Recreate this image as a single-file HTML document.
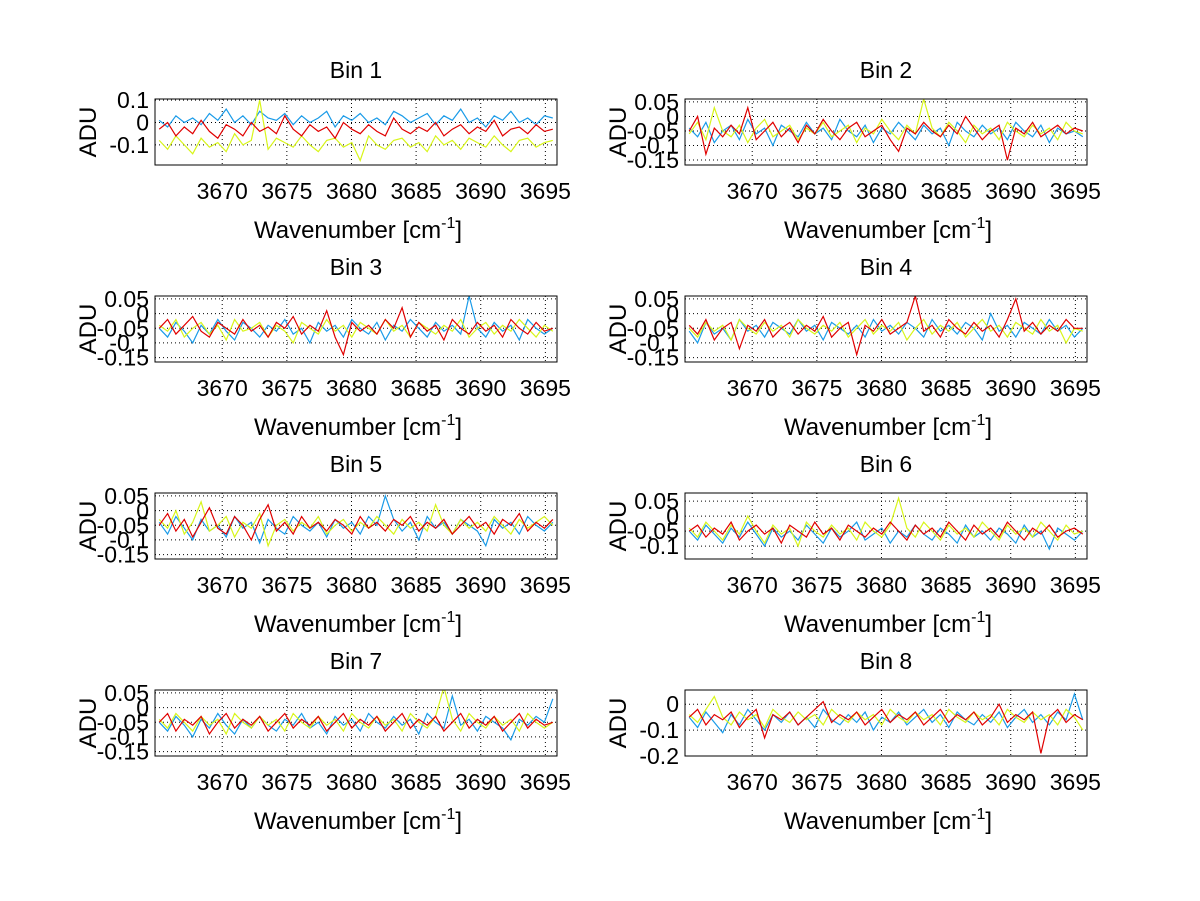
<!DOCTYPE html>
<html><head><meta charset="utf-8">
<style>
html,body{margin:0;padding:0;background:#fff;}
svg{display:block;font-family:"Liberation Sans",Arial,sans-serif;}
</style></head>
<body>
<svg id="fig" width="1200" height="901" viewBox="0 0 1200 901" xmlns="http://www.w3.org/2000/svg">
<rect width="1200" height="901" fill="#fff"/>
</svg>
<script>
const xTicks = [3670, 3675, 3680, 3685, 3690, 3695];
const xMin = 3664.8, xMax = 3695.9;
const binTitles = ["Bin 1","Bin 2","Bin 3","Bin 4","Bin 5","Bin 6","Bin 7","Bin 8"];
const yLims = [[-0.19,0.105],[-0.167,0.06],[-0.165,0.06],[-0.165,0.06],[-0.165,0.06],[-0.143,0.077],[-0.165,0.06],[-0.2,0.055]];
const yTicks = [[-0.1,0,0.1],[-0.15,-0.1,-0.05,0,0.05],[-0.15,-0.1,-0.05,0,0.05],[-0.15,-0.1,-0.05,0,0.05],[-0.15,-0.1,-0.05,0,0.05],[-0.1,-0.05,0,0.05],[-0.15,-0.1,-0.05,0,0.05],[-0.2,-0.1,0]];
const yTickLabels = [["-0.1","0","0.1"],["-0.15","-0.1","-0.05","0","0.05"],["-0.15","-0.1","-0.05","0","0.05"],["-0.15","-0.1","-0.05","0","0.05"],["-0.15","-0.1","-0.05","0","0.05"],["-0.1","-0.05","0","0.05"],["-0.15","-0.1","-0.05","0","0.05"],["-0.2","-0.1","0"]];

const blue1 = [0.01,-0.02,0.03,0.0,0.02,-0.01,0.04,0.01,0.06,0.0,0.03,-0.01,0.05,0.02,0.01,0.04,-0.01,0.03,0.0,0.02,0.05,-0.02,0.03,0.01,0.04,0.0,0.02,-0.01,0.05,0.03,0.0,0.02,0.04,-0.01,0.03,0.01,0.06,0.0,0.02,-0.02,0.03,0.01,0.05,0.0,0.02,-0.01,0.03,0.02];
const yellow1 = [-0.08,-0.12,-0.06,-0.1,-0.14,-0.07,-0.11,-0.09,-0.13,-0.05,-0.1,-0.08,0.1,-0.12,-0.07,-0.09,-0.11,-0.06,-0.1,-0.13,-0.08,-0.07,-0.11,-0.09,-0.17,-0.06,-0.1,-0.12,-0.08,-0.07,-0.11,-0.09,-0.13,-0.06,-0.1,-0.08,-0.12,-0.07,-0.09,-0.11,-0.06,-0.1,-0.13,-0.08,-0.07,-0.11,-0.09,-0.08];
const red1 = [-0.03,0.0,-0.06,-0.02,-0.05,0.01,-0.04,-0.07,-0.01,-0.03,-0.06,0.0,-0.04,-0.02,-0.05,0.03,-0.03,-0.06,-0.01,-0.04,-0.02,-0.07,0.0,-0.03,-0.05,-0.01,-0.04,-0.06,0.02,-0.03,-0.05,-0.02,-0.04,0.0,-0.06,-0.03,-0.01,-0.05,-0.02,-0.04,0.01,-0.06,-0.03,-0.02,-0.05,-0.01,-0.04,-0.03];

const blue2 = [-0.04,-0.07,-0.02,-0.09,-0.05,-0.03,-0.08,-0.01,-0.06,-0.04,-0.1,-0.03,-0.05,-0.07,-0.02,-0.06,-0.04,-0.08,-0.01,-0.05,-0.07,-0.03,-0.09,-0.04,-0.06,-0.02,-0.05,-0.08,-0.03,-0.06,-0.04,-0.1,-0.02,-0.05,-0.07,-0.03,-0.06,-0.04,-0.08,-0.02,-0.05,-0.07,-0.03,-0.09,-0.04,-0.06,-0.05,-0.07];
const yellow2 = [-0.06,-0.02,-0.08,0.03,-0.05,-0.07,-0.03,-0.09,-0.04,-0.01,-0.07,-0.05,-0.03,-0.08,-0.04,-0.06,-0.02,-0.07,-0.05,-0.03,-0.09,-0.04,-0.06,-0.01,-0.05,-0.08,-0.03,-0.06,0.06,-0.04,-0.07,-0.02,-0.05,-0.09,-0.03,-0.06,-0.04,-0.08,-0.02,-0.05,-0.07,-0.03,-0.06,-0.04,-0.08,-0.02,-0.05,-0.06];
const red2 = [-0.05,0.0,-0.13,-0.04,-0.07,-0.03,-0.06,0.03,-0.08,-0.05,-0.02,-0.07,-0.04,-0.09,-0.03,-0.06,-0.01,-0.05,-0.08,-0.04,-0.02,-0.07,-0.05,-0.03,-0.08,-0.12,-0.04,-0.06,-0.02,-0.05,-0.07,-0.03,-0.06,0.0,-0.04,-0.08,-0.05,-0.03,-0.15,-0.04,-0.06,-0.02,-0.07,-0.05,-0.03,-0.06,-0.04,-0.05];

const blue3 = [-0.05,-0.08,-0.03,-0.06,-0.1,-0.04,-0.07,-0.02,-0.06,-0.09,-0.03,-0.05,-0.08,-0.04,-0.06,-0.02,-0.07,-0.05,-0.1,-0.03,-0.06,-0.04,-0.08,-0.02,-0.05,-0.07,-0.03,-0.09,-0.04,-0.06,-0.02,-0.05,-0.08,-0.03,-0.06,-0.04,-0.07,0.06,-0.05,-0.08,-0.03,-0.06,-0.04,-0.09,-0.02,-0.05,-0.07,-0.05];
const yellow3 = [-0.04,-0.06,-0.02,-0.08,-0.05,-0.03,-0.07,-0.04,-0.09,-0.02,-0.06,-0.05,-0.03,-0.08,-0.04,-0.06,-0.1,-0.03,-0.05,-0.07,-0.02,-0.06,-0.04,-0.08,-0.03,-0.05,-0.07,-0.02,-0.06,-0.04,-0.08,-0.03,-0.05,-0.07,-0.04,-0.06,-0.02,-0.08,-0.05,-0.03,-0.07,-0.04,-0.06,-0.02,-0.05,-0.08,-0.04,-0.06];
const red3 = [-0.05,-0.02,-0.07,-0.04,-0.01,-0.06,-0.08,-0.03,-0.05,-0.07,-0.02,-0.06,-0.04,-0.08,-0.03,-0.05,-0.01,-0.07,-0.04,-0.06,0.01,-0.08,-0.14,-0.03,-0.06,-0.04,-0.07,-0.02,-0.05,0.02,-0.08,-0.03,-0.06,-0.04,-0.09,-0.02,-0.05,-0.07,-0.03,-0.06,-0.04,-0.08,-0.02,-0.05,-0.07,-0.03,-0.06,-0.05];

const blue4 = [-0.06,-0.1,-0.03,-0.07,-0.05,-0.09,-0.02,-0.06,-0.04,-0.08,-0.03,-0.05,-0.07,-0.02,-0.06,-0.04,-0.09,-0.03,-0.05,-0.07,-0.04,-0.08,-0.02,-0.06,-0.04,-0.07,-0.03,-0.05,-0.08,-0.02,-0.06,-0.04,-0.07,-0.03,-0.05,-0.09,0.0,-0.06,-0.04,-0.08,-0.03,-0.05,-0.07,-0.02,-0.06,-0.04,-0.08,-0.05];
const yellow4 = [-0.05,-0.08,-0.03,-0.06,-0.04,-0.09,-0.02,-0.05,-0.07,-0.03,-0.06,-0.04,-0.08,-0.02,-0.05,-0.07,-0.04,-0.06,-0.03,-0.08,-0.05,-0.02,-0.07,-0.04,-0.06,-0.03,-0.09,-0.05,-0.02,-0.07,-0.04,-0.06,-0.03,-0.08,-0.05,-0.02,-0.06,-0.04,-0.08,-0.03,-0.05,-0.07,-0.02,-0.06,-0.04,-0.1,-0.05,-0.06];
const red4 = [-0.04,-0.07,-0.02,-0.09,-0.05,-0.03,-0.12,-0.04,-0.06,-0.02,-0.08,-0.05,-0.03,-0.07,-0.04,-0.06,-0.01,-0.08,-0.05,-0.03,-0.14,-0.04,-0.06,-0.02,-0.07,-0.05,-0.03,0.06,-0.06,-0.04,-0.08,-0.02,-0.05,-0.07,-0.03,-0.06,-0.04,-0.08,-0.02,0.05,-0.06,-0.03,-0.07,-0.04,-0.06,-0.02,-0.05,-0.05];

const blue5 = [-0.04,-0.08,-0.02,-0.06,-0.1,-0.03,-0.07,-0.05,-0.09,-0.02,-0.06,-0.04,-0.11,-0.03,-0.06,-0.08,-0.02,-0.05,-0.07,-0.04,-0.09,-0.03,-0.06,-0.04,-0.08,-0.02,-0.05,0.05,-0.03,-0.07,-0.04,-0.1,-0.02,-0.06,-0.04,-0.08,-0.03,-0.05,-0.07,-0.12,-0.03,-0.06,-0.04,-0.08,-0.02,-0.05,-0.07,-0.04];
const yellow5 = [-0.03,-0.06,0.0,-0.08,-0.04,0.03,-0.07,-0.05,-0.02,-0.09,-0.04,-0.06,-0.01,-0.12,-0.05,-0.03,-0.07,-0.04,-0.06,-0.02,-0.08,-0.05,-0.03,-0.07,-0.04,-0.06,-0.02,-0.05,-0.08,-0.03,-0.06,-0.04,-0.07,0.02,-0.05,-0.08,-0.03,-0.06,-0.04,-0.07,-0.02,-0.05,-0.08,-0.03,-0.06,-0.04,-0.02,-0.05];
const red5 = [-0.05,-0.01,-0.07,-0.03,-0.09,-0.04,0.01,-0.06,-0.08,-0.02,-0.05,-0.1,-0.03,0.02,-0.07,-0.04,-0.08,-0.02,-0.06,-0.04,-0.07,-0.03,-0.05,-0.08,-0.02,-0.06,-0.04,-0.07,-0.03,-0.05,-0.02,-0.07,-0.04,-0.06,-0.03,-0.08,-0.05,-0.02,-0.06,-0.04,-0.08,-0.03,-0.05,-0.01,-0.07,-0.04,-0.06,-0.03];

const blue6 = [-0.05,-0.08,-0.03,-0.06,-0.09,-0.04,-0.07,-0.02,-0.06,-0.1,-0.04,-0.07,-0.05,-0.08,-0.03,-0.06,-0.09,-0.04,-0.07,-0.05,-0.02,-0.08,-0.06,-0.04,-0.09,-0.05,-0.07,-0.03,-0.06,-0.08,-0.04,-0.06,-0.09,-0.03,-0.07,-0.05,-0.08,-0.04,-0.06,-0.09,-0.03,-0.07,-0.05,-0.11,-0.04,-0.06,-0.08,-0.05];
const yellow6 = [-0.04,-0.07,-0.02,-0.05,-0.08,-0.03,-0.06,0.0,-0.05,-0.09,-0.03,-0.06,-0.04,-0.1,-0.02,-0.05,-0.07,-0.03,-0.06,-0.04,-0.08,-0.02,-0.05,-0.07,-0.03,0.06,-0.04,-0.07,-0.02,-0.05,-0.08,-0.03,-0.06,-0.04,-0.07,-0.02,-0.05,-0.08,-0.03,-0.06,-0.04,-0.07,-0.02,-0.05,-0.08,-0.03,-0.06,-0.05];
const red6 = [-0.05,-0.03,-0.07,-0.04,-0.06,-0.02,-0.08,-0.05,-0.03,-0.06,-0.04,-0.09,-0.03,-0.05,-0.07,-0.02,-0.06,-0.04,-0.08,-0.03,-0.05,-0.07,-0.04,-0.06,-0.02,-0.05,-0.08,-0.03,-0.06,-0.04,-0.07,-0.02,-0.05,-0.08,-0.03,-0.06,-0.04,-0.07,-0.02,-0.05,-0.08,-0.04,-0.06,-0.03,-0.07,-0.05,-0.04,-0.06];

const blue7 = [-0.05,-0.08,-0.03,-0.06,-0.1,-0.04,-0.07,-0.02,-0.06,-0.09,-0.04,-0.07,-0.03,-0.06,-0.08,-0.04,-0.06,-0.02,-0.07,-0.05,-0.09,-0.03,-0.06,-0.04,-0.08,-0.02,-0.05,-0.07,-0.03,-0.06,-0.04,-0.09,-0.02,-0.05,-0.07,0.04,-0.06,-0.04,-0.08,-0.03,-0.05,-0.07,-0.11,-0.04,-0.06,-0.03,-0.05,0.03];
const yellow7 = [-0.04,-0.07,-0.02,-0.05,-0.08,-0.03,-0.06,-0.04,-0.09,-0.02,-0.05,-0.07,-0.03,-0.06,-0.04,-0.08,-0.02,-0.05,-0.07,-0.03,-0.06,-0.04,-0.08,-0.02,-0.05,-0.07,-0.03,-0.06,-0.04,-0.08,-0.02,-0.05,-0.07,-0.03,0.07,-0.04,-0.08,-0.02,-0.05,-0.07,-0.03,-0.06,-0.04,-0.08,-0.02,-0.05,-0.07,-0.05];
const red7 = [-0.05,-0.02,-0.08,-0.04,-0.06,-0.03,-0.09,-0.05,-0.02,-0.07,-0.04,-0.06,-0.03,-0.08,-0.05,-0.02,-0.07,-0.04,-0.06,-0.03,-0.08,-0.05,-0.02,-0.07,-0.04,-0.06,-0.03,-0.08,-0.05,-0.02,-0.07,-0.04,-0.06,-0.03,-0.08,-0.05,-0.02,-0.07,-0.04,-0.06,-0.03,-0.08,-0.05,-0.02,-0.07,-0.04,-0.06,-0.05];

const blue8 = [-0.05,-0.09,-0.03,-0.07,-0.11,-0.04,-0.08,-0.02,-0.06,-0.1,-0.04,-0.07,-0.03,-0.08,-0.05,-0.09,-0.02,-0.06,-0.08,-0.04,-0.07,-0.03,-0.1,-0.05,-0.07,-0.03,-0.08,-0.05,-0.02,-0.07,-0.04,-0.09,-0.03,-0.06,-0.08,-0.04,-0.07,-0.03,-0.09,-0.05,-0.02,-0.07,-0.04,-0.08,-0.03,-0.06,0.04,-0.06];
const yellow8 = [-0.04,-0.07,-0.02,0.03,-0.05,-0.08,-0.03,-0.06,-0.04,-0.09,-0.02,-0.05,-0.07,-0.03,-0.06,-0.04,-0.08,-0.02,-0.05,-0.07,-0.03,-0.06,-0.04,-0.08,-0.02,-0.05,-0.07,-0.03,-0.06,-0.04,-0.08,-0.02,-0.05,-0.07,-0.03,-0.06,-0.04,-0.08,-0.02,-0.05,-0.07,-0.03,-0.06,-0.04,-0.08,-0.02,-0.05,-0.1];
const red8 = [-0.05,-0.02,-0.08,-0.04,-0.06,-0.03,-0.09,-0.05,-0.02,-0.13,-0.04,-0.06,-0.03,-0.08,-0.05,-0.02,0.01,-0.07,-0.04,-0.06,-0.03,-0.08,-0.05,-0.02,-0.07,-0.04,-0.06,-0.03,-0.08,-0.05,-0.02,-0.07,-0.04,-0.06,-0.03,-0.08,-0.05,0.0,-0.07,-0.04,-0.06,-0.03,-0.19,-0.05,-0.02,-0.07,-0.04,-0.06];

const blueSeries = [blue1,blue2,blue3,blue4,blue5,blue6,blue7,blue8];
const yellowSeries = [yellow1,yellow2,yellow3,yellow4,yellow5,yellow6,yellow7,yellow8];
const redSeries = [red1,red2,red3,red4,red5,red6,red7,red8];

const NS = "http://www.w3.org/2000/svg";
const svg = document.getElementById("fig");
function mk(tag, attrs, parent) {
  const e = document.createElementNS(NS, tag);
  for (const k in attrs) e.setAttribute(k, attrs[k]);
  (parent || svg).appendChild(e);
  return e;
}
const W = 402, H = 66;
for (let i = 0; i < 8; i++) {
  const col = i % 2, row = Math.floor(i / 2);
  const L = 155 + col * 530, T = 99 + row * 197;
  const [y0, y1] = yLims[i];
  const sx = v => L + (v - xMin) / (xMax - xMin) * W;
  const sy = v => T + H - (v - y0) / (y1 - y0) * H;
  const g = mk("g", {});
  
  
  const bg = mk("rect", {x: L, y: T, width: W, height: H, fill: "#fff"}, g);
  
  
  xTicks.forEach(t => {
    const gl = mk("line", {x1: sx(t), x2: sx(t), y1: T, y2: T + H, stroke: "#000", "stroke-width": 1, "stroke-dasharray": "1,3"}, g);
    
    
    const tl = mk("text", {x: sx(t), y: T + H + 34, "text-anchor": "middle", "font-size": 23}, g);
    tl.textContent = t;
    
    
  });
  yTicks[i].forEach((t, j) => {
    const gl = mk("line", {x1: L, x2: L + W, y1: sy(t), y2: sy(t), stroke: "#000", "stroke-width": 1, "stroke-dasharray": "1,3"}, g);
    
    
    const tl = mk("text", {x: L - 6, y: sy(t) + 8, "text-anchor": "end", "font-size": 23}, g);
    tl.textContent = yTickLabels[i][j];
    
    
  });
  const clipId = "c" + i;
  const cp = mk("clipPath", {id: clipId}, g);
  mk("rect", {x: L, y: T, width: W, height: H}, cp);
  [[blueSeries[i], "#1a9be8", "blue"], [yellowSeries[i], "#d8f51a", "yellow"], [redSeries[i], "#e00000", "red"]].forEach(([data, c, nm]) => {
    const n = data.length;
    const pts = data.map((v, k) => sx(xMin + (k + 0.5) / n * (xMax - xMin)).toFixed(1) + "," + sy(v).toFixed(1)).join(" ");
    const pl = mk("polyline", {points: pts, fill: "none", stroke: c, "stroke-width": 1.2, "clip-path": "url(#" + clipId + ")"}, g);
    
    
  });
  const box = mk("rect", {x: L, y: T, width: W, height: H, fill: "none", stroke: "#000", "stroke-width": 1}, g);
  
  
  const title = mk("text", {x: L + W / 2, y: T - 21, "text-anchor": "middle", "font-size": 23}, g);
  title.textContent = binTitles[i];
  
  
  const xl = mk("text", {x: L + W / 2 + 2, y: T + H + 73, "text-anchor": "middle", "font-size": 24}, g);
  
  
  const t1 = mk("tspan", {}, xl); t1.textContent = "Wavenumber [cm";
  const t2 = mk("tspan", {dy: -10, "font-size": 16}, xl); t2.textContent = "-1";
  const t3 = mk("tspan", {dy: 10}, xl); t3.textContent = "]";
  const yl = mk("text", {x: 0, y: 0, "text-anchor": "middle", "font-size": 24, transform: "translate(" + (L - 59) + "," + (T + H / 2) + ") rotate(-90)"}, g);
  yl.textContent = "ADU";
  
  
}
</script>
</body></html>
